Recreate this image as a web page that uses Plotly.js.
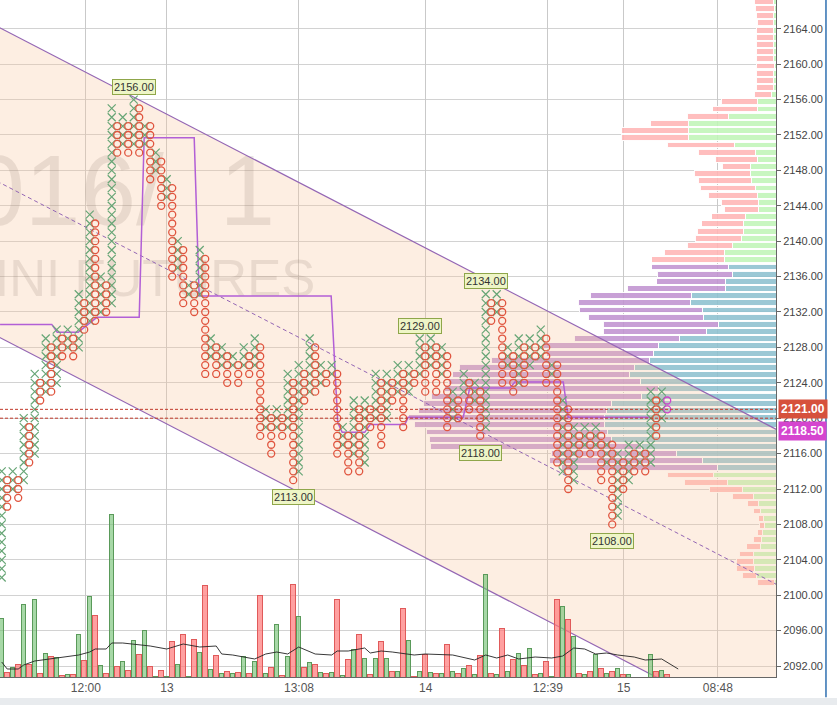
<!DOCTYPE html>
<html><head><meta charset="utf-8">
<script src="https://cdn.plot.ly/plotly-3.0.1.min.js"></script>
<style>html,body{margin:0;padding:0;background:#fff}#chart{width:837px;height:705px}</style>
</head><body><div id="chart"></div>
<script>
// ---------- Point & Figure columns (box = 1 point) ----------
const BOX = 1;
const colType = "XOXOXOXOXOXOXOXOXOXOXOXOXOXOXOXOXOXOXOXOXOXOXOXOXOXOXOXOXOXOXOXOXOXOXOXOXOXOXOXOXOXOXOXOXOXOXOXOXOXOXOXOXOXOXOXOXOXOXOXOXO".split('');
const colLow = [2102,2110,2112,2111,2113,2115,2116,2122,2123,2123,
  2124,2127,2128,2127,2128,2130,2131,2131,2132,2132,
  2133,2150,2151,2150,2151,2150,2151,2147,2148,2144,
  2145,2136,2137,2133,2134,2132,2134,2125,2127,2125,
  2126,2124,2126,2124,2126,2125,2126,2118,2119,2116,
  2119,2118,2119,2113,2114,2122,2123,2123,2124,2124,
  2125,2116,2117,2114,2116,2114,2115,2119,2120,2117,
  2120,2122,2123,2119,2123,2124,2125,2123,2126,2123,
  2125,2119,2120,2120,2123,2121,2122,2118,2119,2131,
  2132,2124,2126,2123,2124,2124,2126,2127,2127,2124,
  2125,2115,2114,2112,2113,2116,2117,2116,2117,2113,
  2115,2108,2109,2112,2113,2114,2115,2114,2115,2118,
  2120,2121,2121,2119];
const colHigh = [2114,2113,2114,2113,2120,2119,2125,2124,2129,2128,
  2130,2129,2130,2129,2134,2133,2143,2142,2136,2135,
  2155,2153,2154,2153,2156,2155,2153,2153,2150,2149,
  2147,2146,2140,2139,2135,2135,2139,2138,2129,2128,
  2128,2127,2127,2126,2128,2127,2129,2128,2121,2120,
  2121,2120,2125,2124,2126,2125,2129,2128,2126,2125,
  2126,2125,2119,2118,2122,2121,2122,2121,2125,2124,
  2125,2124,2126,2125,2126,2125,2129,2128,2129,2128,
  2128,2127,2123,2122,2125,2124,2124,2123,2134,2133,
  2134,2133,2128,2127,2129,2128,2129,2128,2130,2129,
  2126,2126,2122,2121,2119,2118,2119,2118,2119,2118,
  2117,2117,2116,2115,2117,2116,2117,2116,2123,2122,
  2123,2122,2124,2123];
const currentBoxes = 2;

// ---------- Volume per column + moving average ----------
const volume = [59,5,10,13,73,13,78,4,24,21,
  20,2,3,3,43,17,81,62,12,4,
  163,11,16,7,37,23,47,11,1,7,
  1,36,13,43,1,38,25,92,8,22,
  4,6,4,5,21,4,16,82,4,10,
  53,2,21,93,61,10,15,13,5,4,
  5,78,2,18,28,43,19,3,19,36,
  19,6,6,69,37,1,6,23,5,4,
  4,33,6,4,9,12,3,22,103,4,
  3,49,6,18,24,12,29,3,4,16,
  1,78,71,58,41,4,3,6,23,9,
  4,6,9,3,3,0,0,0,23,6,
  7,3,4,2];
const maIdx = [0,1,3,4,6,9,12,14,16,17,19,20,22,24,27,30,33,36,39,40,42,46,48,50,52,54,57,60,61,63,66,67,69,71,75,77,82,86,88,90,92,94,97,100,102,104,106,108,110,112,115,117,120,123];
const maVal = [15,8,8,12,16,18,20,22,25,28,28,34,34,33,31,28,33,30,31,23,22,18,23,25,23,30,23,22,26,26,29,24,26,25,22,23,22,17,22,19,22,18,20,19,21,29,28,23,24,22,20,17,18,8];

// ---------- Developing point of control ----------
const pocIdx = [-0.3,9.1,10.1,13.9,17.3,25.0,25.9,35.0,35.9,59.9,61.1,61.9,66.0,67.0,73.3,73.9,83.9,85.1,92.4,93.3,102.1,103.0,117.9];
const pocPrice = [2130.6,2130.6,2129.7,2129.7,2131.4,2131.4,2151.7,2151.7,2133.8,2133.8,2119.5,2118.4,2118.4,2119.3,2119.3,2120.1,2120.1,2123.4,2123.4,2124.1,2124.1,2120.1,2120.1];

// ---------- Volume profile ----------
const profPrice = [2167.09,2166.28,2165.47,2164.66,2163.85,2163.04,2162.23,2161.42,2160.60,2159.79,
  2158.98,2158.17,2157.36,2156.55,2155.74,2154.93,2154.12,2153.31,2152.50,2151.69,
  2150.87,2150.06,2149.25,2148.44,2147.63,2146.82,2146.01,2145.20,2144.39,2143.58,
  2142.77,2141.96,2141.14,2140.33,2139.52,2138.71,2137.90,2137.09,2136.28,2135.47,
  2134.66,2133.85,2133.04,2132.23,2131.41,2130.60,2129.79,2128.98,2128.17,2127.36,
  2126.55,2125.74,2124.93,2124.12,2123.31,2122.50,2121.68,2120.87,2120.06,2119.25,
  2118.44,2117.63,2116.82,2116.01,2115.20,2114.39,2113.58,2112.77,2111.95,2111.14,
  2110.33,2109.52,2108.71,2107.90,2107.09,2106.28,2105.47,2104.66,2103.85,2103.04,
  2102.22,2101.41];
const profBuy = [2.7,1.7,2.3,2.3,2.3,2.3,2.3,2.3,2.3,1.7,
  2.3,2.3,2.3,4.3,18.3,18.3,47.7,87.3,87.3,87.3,
  41.7,20.7,19,26,25.7,24.3,20.7,18.3,17.7,17.7,
  30.7,32.7,32.7,35,43.3,51.7,51.7,47.7,44,51,
  51,85,86,74,73,58,70,97,118,123,
  127,142,147,136,118,135,165,170,172,172,
  169,165,135,100,74,59,62.3,48.3,33.3,22.7,
  17.7,15.7,12.3,11.7,13.3,15,16,22.3,22.3,21.7,
  20,1.7];
const profSell = [19,19,17.3,16.7,17.3,17.3,17.3,17.3,17.7,18.3,
  17.3,17.3,17.7,17.3,36.7,45,41.3,38.7,67.7,67.7,
  67.3,57,41.7,28,56,53.3,55,49.3,37.3,34,
  33.7,41.7,46.3,45.7,45.7,60,72.7,76.6,75,68.3,
  98,101,112,123,115,115,103,105,115,107,
  158,175,177,192,214,210,188,188,196,190,
  181,182,211,125,153,156,46.7,43.3,33.3,21.3,
  10.7,6.7,5,4.7,5,7.7,13.3,14.3,17.7,18.3,
  14,17.3];
const vaHigh = 2137.5, vaLow = 2114.0;

// ---------- Regression channel ----------
const chanIdx = [-2, 142];
const chanUpper = [2164.64, 2118.36];
const chanMid = [2147.14, 2100.86];
const chanLower = [2129.64, 2083.36];

// ---------- Axis ticks & labels ----------
const tickIdx = [15.3, 30.05, 54.05, 77.1, 99.3, 113.1, 130.2];
const tickText = ['12:00','13','13:08','14','12:39','15','08:48'];
const labelIdx = [24, 88, 76, 87, 53, 111];
const labelPrice = [2156, 2134, 2129, 2118, 2113, 2108];
const labelSide = ['top','top','top','bottom','bottom','bottom'];
const lastPrice = 2121.0, prevPrice = 2120.0, currentPrice = 2118.5;

// ---------- Build traces ----------
const xX=[],yX=[],xO=[],yO=[],xM=[],yM=[];
for (let i=0;i<colType.length;i++){
  for (let p=colLow[i]; p<=colHigh[i]; p+=BOX){
    if (colType[i]==='X'){ xX.push(i); yX.push(p); }
    else if (i===colType.length-1 && p < colLow[i]+currentBoxes*BOX){ xM.push(i); yM.push(p); }
    else { xO.push(i); yO.push(p); }
  }
}
const colIdx = colType.map((t,i)=>i);
const volFill = colType.map(t => t==='X' ? 'rgba(120,195,120,0.65)' : 'rgba(255,120,120,0.7)');
const volLine = colType.map(t => t==='X' ? '#5a9a5a' : '#e05a5a');
const inVA = profPrice.map(p => p<=vaHigh && p>=vaLow);
const buyCol = inVA.map(v => v ? 'rgba(141,192,207,0.88)' : 'rgba(192,245,183,0.88)');
const sellCol = inVA.map(v => v ? 'rgba(192,147,208,0.88)' : 'rgba(255,181,181,0.88)');

const FONT = 'Liberation Sans, Arial, sans-serif';
const XCOL = '#66a575', OCOL = '#e0553f', MCOL = '#cc44cc';
const traces = [
  {type:'bar', orientation:'h', x:profBuy, y:profPrice, xaxis:'x', yaxis:'y',
   marker:{color:buyCol, line:{color:'rgba(255,255,255,0.95)', width:1}}, hoverinfo:'skip'},
  {type:'bar', orientation:'h', x:profSell, y:profPrice, xaxis:'x', yaxis:'y',
   marker:{color:sellCol, line:{color:'rgba(255,255,255,0.95)', width:1}}, hoverinfo:'skip'},
  {type:'scatter', mode:'lines', xaxis:'x2', yaxis:'y',
   x:[chanIdx[0],chanIdx[1],chanIdx[1],chanIdx[0]], y:[chanUpper[0],chanUpper[1],chanLower[1],chanLower[0]],
   fill:'toself', fillcolor:'rgba(248,198,158,0.3)', line:{width:0}, hoverinfo:'skip'},
  {type:'scatter', mode:'text', xaxis:'x2', yaxis:'y', x:[49.7], y:[2144.7], text:['2016/  1'],
   textposition:'middle left', textfont:{family:FONT, size:100, color:'rgba(120,100,90,0.15)'}, hoverinfo:'skip'},
  {type:'scatter', mode:'text', xaxis:'x2', yaxis:'y', x:[57], y:[2135.3], text:['E-MINI FUTURES'],
   textposition:'middle left', textfont:{family:FONT, size:51, color:'rgba(120,100,90,0.15)'}, hoverinfo:'skip'},
  {type:'scatter', mode:'lines', xaxis:'x2', yaxis:'y', x:chanIdx, y:chanUpper, line:{color:'#9466b4', width:1.2}},
  {type:'scatter', mode:'lines', xaxis:'x2', yaxis:'y', x:chanIdx, y:chanLower, line:{color:'#9466b4', width:1.2}},
  {type:'scatter', mode:'lines', xaxis:'x2', yaxis:'y', x:chanIdx, y:chanMid, line:{color:'#9466b4', width:1, dash:'4px,3px'}},
  {type:'scatter', mode:'lines', xaxis:'x2', yaxis:'y', x:pocIdx, y:pocPrice, line:{color:'#b25fd6', width:1.5}},
  {type:'scatter', mode:'markers', xaxis:'x2', yaxis:'y', x:xX, y:yX,
   marker:{symbol:'x-thin-open', size:8, color:XCOL, line:{color:XCOL, width:1.2}}},
  {type:'scatter', mode:'markers', xaxis:'x2', yaxis:'y', x:xO, y:yO,
   marker:{symbol:'circle-open', size:7, color:OCOL, line:{color:OCOL, width:1.3}}},
  {type:'scatter', mode:'markers', xaxis:'x2', yaxis:'y', x:xM, y:yM,
   marker:{symbol:'circle-open', size:7, color:MCOL, line:{color:MCOL, width:1.3}}},
  {type:'bar', x:colIdx, y:volume, xaxis:'x2', yaxis:'y3',
   marker:{color:volFill, line:{color:volLine, width:1}}, hoverinfo:'skip'},
  {type:'scatter', mode:'lines', xaxis:'x2', yaxis:'y3', x:maIdx, y:maVal, line:{color:'#222', width:0.9}}
];

const annotations = labelIdx.map((ix,k)=>({
  x:ix, y:labelPrice[k], xref:'x2', yref:'y', text:labelPrice[k].toFixed(2), showarrow:false,
  yanchor: labelSide[k]==='top' ? 'bottom' : 'top', yshift: labelSide[k]==='top' ? 5 : -9,
  bgcolor:'#eef5c6', bordercolor:'#8fa64a', borderwidth:1, borderpad:1,
  font:{family:FONT, size:11, color:'#333'}
}));
annotations.push({x:1, xref:'paper', xanchor:'left', xshift:2, y:lastPrice, yref:'y', text:'<b>'+lastPrice.toFixed(2)+'</b>',
  showarrow:false, bgcolor:'#d6513c', borderpad:2, font:{family:FONT, size:12, color:'#fff'}});
annotations.push({x:1, xref:'paper', xanchor:'left', xshift:2, y:currentPrice, yref:'y', text:'<b>'+currentPrice.toFixed(2)+'</b>',
  showarrow:false, bgcolor:'#d545cf', borderpad:2, font:{family:FONT, size:12, color:'#fff'}});

const shapes = [
  {type:'line', xref:'paper', x0:0, x1:1, yref:'y', y0:lastPrice, y1:lastPrice, line:{color:'#c0392b', width:1, dash:'3px,2px'}},
  {type:'line', xref:'paper', x0:0, x1:1, yref:'y', y0:prevPrice, y1:prevPrice, line:{color:'#c0392b', width:1, dash:'3px,2px'}},
  {type:'line', xref:'paper', x0:1.0644, x1:1.0644, yref:'paper', y0:-0.03, y1:1, line:{color:'#2f6fb1', width:1.5}},
  {type:'rect', xref:'paper', x0:-0.01, x1:1.08, yref:'paper', y0:-0.05, y1:-0.031, fillcolor:'#e8ebee', line:{width:0}}
];

const layout = {
  width:837, height:705, margin:{l:0, r:61, t:0, b:28},
  paper_bgcolor:'#fff', plot_bgcolor:'#fff', showlegend:false, hovermode:false,
  barmode:'stack', bargap:0.18,
  font:{family:FONT, size:11, color:'#444'},
  xaxis:{range:[776,0], visible:false, fixedrange:true},
  xaxis2:{overlaying:'x', anchor:'y', range:[-0.31,140.78], tickvals:tickIdx, ticktext:tickText,
    showgrid:true, gridcolor:'#c9c9c9', showline:true, linecolor:'#666', ticks:'', zeroline:false,
    tickfont:{family:FONT, size:12, color:'#555'}},
  yaxis:{side:'right', range:[2090.76,2167.25], tick0:2092, dtick:4, tickformat:'.2f',
    showgrid:true, gridcolor:'#d2d2d2', showline:true, linecolor:'#666', ticks:'outside', ticklen:4,
    tickcolor:'#666', zeroline:false, tickfont:{family:FONT, size:11, color:'#444'}},
  yaxis3:{overlaying:'y', anchor:'x2', range:[0,677], visible:false},
  annotations, shapes
};
Plotly.newPlot('chart', traces, layout, {staticPlot:true, displayModeBar:false});
</script></body></html>
